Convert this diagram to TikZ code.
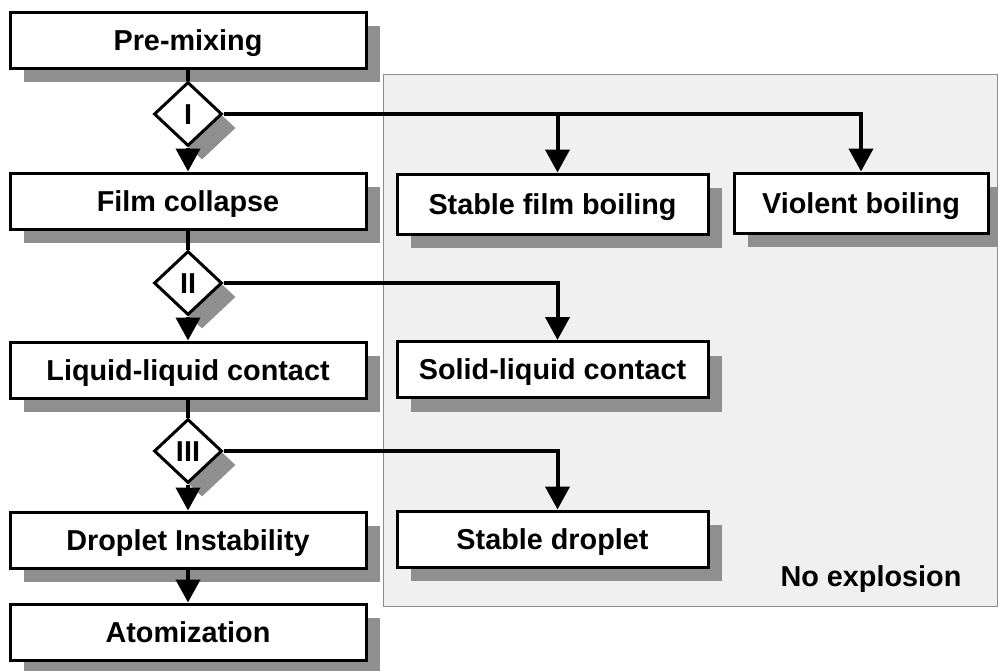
\documentclass[tikz,border=0pt]{standalone}
\usepackage{fontspec}
\setmainfont{Liberation Sans}
\usetikzlibrary{shapes.geometric,shadows,arrows.meta}
\begin{document}
\begin{tikzpicture}[x=1pt,y=-1pt,
  shade/.style={drop shadow={shadow xshift=14pt, shadow yshift=-14pt, fill=black!44, opacity=1}},
  txt/.style={font=\fontsize{28.8}{32}\selectfont\bfseries, text height=20.6pt, text depth=0pt},
  box/.style={draw=black, line width=3pt, fill=white, inner sep=0pt, txt, shade,
              minimum width=356pt, minimum height=56pt},
  rbox/.style={box, minimum width=311pt, minimum height=60pt},
  dia/.style={diamond, draw=black, line width=3pt, fill=white, inner sep=0pt, txt, shade,
              minimum width=68pt, minimum height=64pt},
  conn/.style={line width=4pt},
  arr/.style={conn, -{Triangle[width=24pt,length=23pt]}},
  panel/.style={draw=black!45, line width=1pt, fill=black!6}
]
\useasboundingbox (0,0) rectangle (998,670);
\fill[white] (0,0) rectangle (998,670);
% panel
\node[panel, minimum width=614pt, minimum height=532pt, inner sep=0pt, anchor=north west] (panel) at (383,74) {};
% left column
\node[box] (pre) at (188,40) {Pre-mixing};
\node[box] (fc)  at (188,201) {Film collapse};
\node[box] (llc) at (188,370) {Liquid-liquid contact};
\node[box] (di)  at (188,540) {Droplet Instability};
\node[box] (at)  at (188,632) {Atomization};
% diamonds
\node[dia] (d1) at (188,114) {I};
\node[dia] (d2) at (188,283) {II};
\node[dia] (d3) at (188,451) {III};
% right column
\node[rbox] (sfb) at (552.5,204) {Stable film boiling};
\node[rbox, minimum width=254pt] (vb) at (861,203) {Violent boiling};
\node[rbox, minimum height=56pt] (slc) at (552.5,369.5) {Solid-liquid contact};
\node[rbox, minimum height=56pt] (sd) at (552.5,539) {Stable droplet};
\node[txt] (ne) at (871,576) {No explosion};
% connectors
\draw[conn] (pre.south) -- (d1.north);
\draw[arr] (d1.south) -- (fc.north);
\draw[conn] (fc.south) -- (d2.north);
\draw[arr] (d2.south) -- (llc.north);
\draw[conn] (llc.south) -- (d3.north);
\draw[arr] (d3.south) -- (di.north);
\draw[arr] (di.south) -- (at.north);
\draw[arr] (d1.east) -| ([xshift=5pt]sfb.north);
\draw[arr] (d1.east) -| (vb.north);
\draw[arr] (d2.east) -| ([xshift=5pt]slc.north);
\draw[arr] (d3.east) -| ([xshift=5pt]sd.north);
\end{tikzpicture}
\end{document}
